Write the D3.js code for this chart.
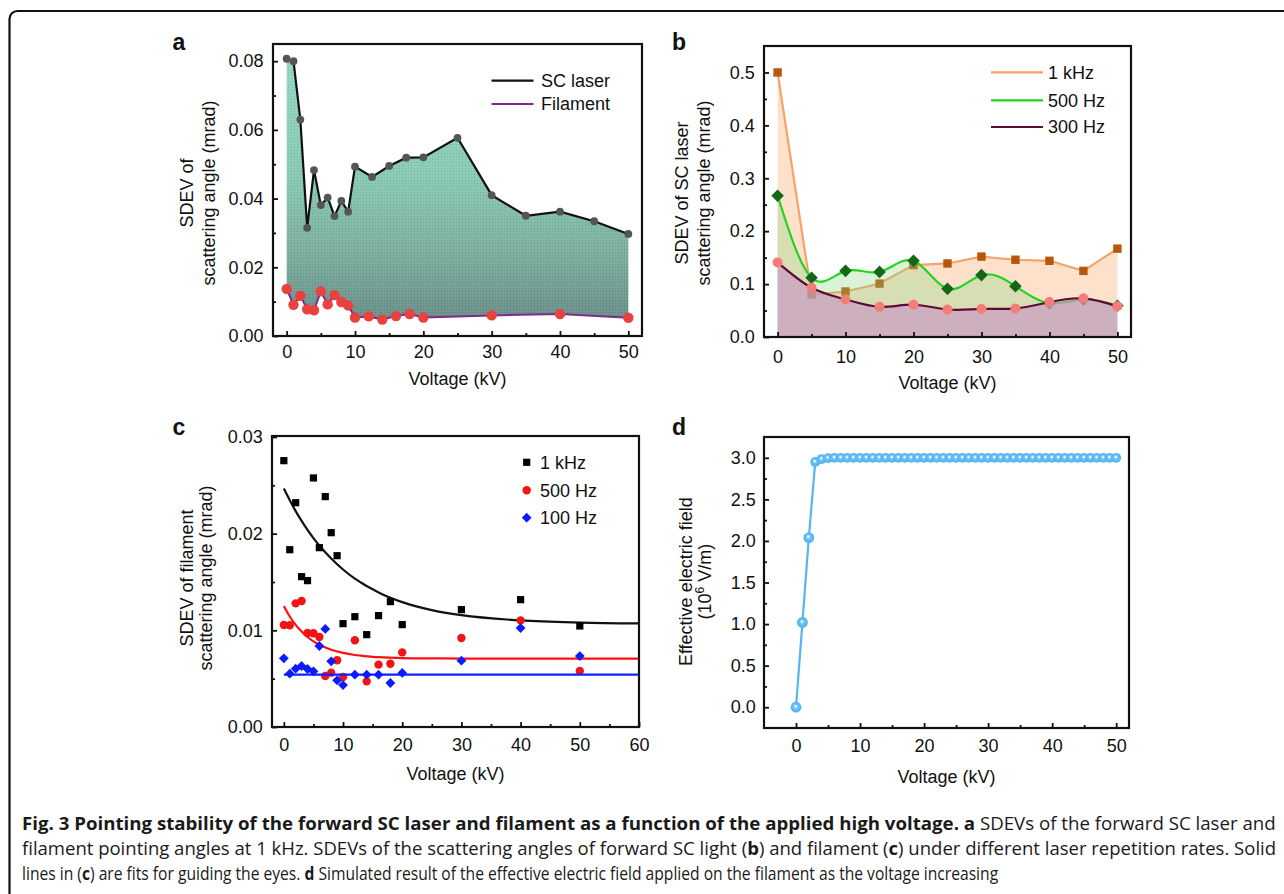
<!DOCTYPE html>
<html>
<head>
<meta charset="utf-8">
<script src="https://cdn.jsdelivr.net/npm/d3@7"></script>
<style>
html, body { margin: 0; padding: 0; background: #fff; }
svg { display: block; font-family: "Liberation Sans", Arimo, Arial, Helvetica, sans-serif; }
text { font-family: "Liberation Sans", Arimo, Arial, Helvetica, sans-serif; fill: #111; }
text.cap { font-family: "Open Sans", "Noto Sans", sans-serif; white-space: pre; fill: #1a1a1a; }
</style>
</head>
<body>
<svg id="fig" width="1284" height="894"></svg>
<script>
// ---------- Panel a: SDEV vs voltage at 1 kHz ----------
const voltA      = [0, 1, 2, 3, 4, 5, 6, 7, 8, 9, 10, 12.5, 15, 17.5, 20, 25, 30, 35, 40, 45, 50];
const scLaserA   = [0.0807, 0.0800, 0.0630, 0.0315, 0.0483, 0.0381, 0.0403, 0.0349, 0.0393, 0.0362, 0.0493,
                    0.0463, 0.0495, 0.0519, 0.0520, 0.0577, 0.0410, 0.0350, 0.0362, 0.0334, 0.0297];
const voltFilA   = [0, 1, 2, 3, 4, 5, 6, 7, 8, 9, 10, 12, 14, 16, 18, 20, 30, 40, 50];
const filamentA  = [0.0137, 0.0091, 0.0117, 0.0078, 0.0075, 0.0130, 0.0092, 0.0119, 0.0099, 0.0089, 0.0054,
                    0.0057, 0.0048, 0.0058, 0.0064, 0.0054, 0.0060, 0.0064, 0.0053];
const legendA    = ["SC laser", "Filament"];

// ---------- Panel b: SC laser SDEV at three repetition rates ----------
const voltB   = [0, 5, 10, 15, 20, 25, 30, 35, 40, 45, 50];
const kHz1B   = [0.500, 0.080, 0.086, 0.101, 0.136, 0.139, 0.152, 0.146, 0.144, 0.125, 0.167];
const hz500B  = [0.267, 0.112, 0.125, 0.123, 0.144, 0.091, 0.117, 0.096, 0.064, 0.071, 0.059];
const hz300B  = [0.141, 0.093, 0.071, 0.057, 0.061, 0.052, 0.053, 0.054, 0.066, 0.073, 0.058];
const legendB = ["1 kHz", "500 Hz", "300 Hz"];

// ---------- Panel c: filament SDEV at three repetition rates ----------
const voltC   = [0, 1, 2, 3, 4, 5, 6, 7, 8, 9, 10, 12, 14, 16, 18, 20, 30, 40, 50];
const kHz1C   = [0.02755, 0.01834, 0.0232, 0.01555, 0.01514, 0.02576, 0.01855, 0.02383, 0.0201, 0.01772,
                 0.01069, 0.01141, 0.00955, 0.01152, 0.01297, 0.01059, 0.01214, 0.01317, 0.01045];
const hz500C  = [0.01055, 0.01052, 0.01279, 0.01303, 0.00972, 0.00969, 0.00931, 0.00528, 0.00562, 0.0069,
                 0.00517, 0.00897, 0.00472, 0.00645, 0.00655, 0.00772, 0.00921, 0.01103, 0.00579];
const hz100C  = [0.0071, 0.00552, 0.00603, 0.00631, 0.006, 0.00576, 0.00838, 0.01014, 0.00679, 0.00483,
                 0.00434, 0.00541, 0.00541, 0.00541, 0.00455, 0.00559, 0.00686, 0.01024, 0.00734];
// guide-to-the-eye fit curves
const fitVoltC   = [0, 1, 2, 3, 4, 5, 6, 8, 10, 12, 13, 15, 16, 20, 25, 30, 40, 50, 60];
const fit1kHzC   = [0.02466, 0.02345, 0.02233, 0.02132, 0.02039, 0.01954, 0.01877, 0.01742, 0.01629, 0.01534,
                    0.01495, 0.01425, 0.01392, 0.01292, 0.01209, 0.01157, 0.01102, 0.0108, 0.01071];
const fit500C    = [0.01252, 0.01143, 0.01056, 0.00987, 0.00931, 0.00886, 0.00851, 0.00799, 0.00766, 0.00745,
                    0.00738, 0.00726, 0.00722, 0.00713, 0.0071, 0.00708, 0.00707, 0.00707, 0.00707];
const fit100C    = [0.00541, 0.00541];
const fit100VoltC = [0, 60];
const legendC = ["1 kHz", "500 Hz", "100 Hz"];

// ---------- Panel d: simulated effective electric field ----------
const voltD  = [0, 1, 2, 3, 4, 5, 6, 7, 8, 9, 10, 11, 12, 13, 14, 15, 16, 17, 18, 19, 20, 21, 22, 23, 24, 25,
                26, 27, 28, 29, 30, 31, 32, 33, 34, 35, 36, 37, 38, 39, 40, 41, 42, 43, 44, 45, 46, 47, 48, 49, 50];
const fieldD = [0, 1.02, 2.04, 2.95, 2.985, 2.996, 3.0, 3.0, 3.0, 3.0, 3.0, 3.0, 3.0, 3.0, 3.0, 3.0, 3.0, 3.0,
                3.0, 3.0, 3.0, 3.0, 3.0, 3.0, 3.0, 3.0, 3.0, 3.0, 3.0, 3.0, 3.0, 3.0, 3.0, 3.0, 3.0, 3.0, 3.0,
                3.0, 3.0, 3.0, 3.0, 3.0, 3.0, 3.0, 3.0, 3.0, 3.0, 3.0, 3.0, 3.0, 3.0];

const xTicks50 = [0, 10, 20, 30, 40, 50];
const xMinor50 = [5, 15, 25, 35, 45];

const svg = d3.select("#fig");
const defs = svg.append("defs");

// outer rounded frame of the figure
svg.append("rect")
  .attr("x", 9.5).attr("y", 11).attr("width", 1300).attr("height", 900).attr("rx", 8)
  .attr("fill", "none").attr("stroke", "#111").attr("stroke-width", 2.2);

function makePanel(box, xDom, yDom) {
  const x = d3.scaleLinear(xDom, [box.l, box.r]);
  const y = d3.scaleLinear(yDom, [box.b, box.t]);
  const g = svg.append("g");
  return { x, y, g, box };
}

function drawAxes(p, o) {
  const ax = p.g.append("g").attr("class", "axes");
  const bx = ax.append("g").attr("transform", `translate(0,${p.box.b})`)
    .call(d3.axisBottom(p.x).tickValues(o.xMajor).tickSize(-5).tickPadding(o.xPad).tickFormat(d3.format("d")));
  const bxm = ax.append("g").attr("transform", `translate(0,${p.box.b})`)
    .call(d3.axisBottom(p.x).tickValues(o.xMinor).tickSize(-3).tickFormat(""));
  const ly = ax.append("g").attr("transform", `translate(${p.box.l},0)`)
    .call(d3.axisLeft(p.y).tickValues(o.yMajor).tickSize(-5).tickPadding(o.yPad).tickFormat(d3.format(o.yFmt)));
  const lym = ax.append("g").attr("transform", `translate(${p.box.l},0)`)
    .call(d3.axisLeft(p.y).tickValues(o.yMinor).tickSize(-3).tickFormat(""));
  [bx, bxm, ly, lym].forEach(s => {
    s.select(".domain").remove();
    s.attr("font-size", 18).attr("font-family", null);
    s.selectAll("line").attr("stroke", "#111").attr("stroke-width", 1.8);
  });
  ax.append("rect")
    .attr("x", p.box.l).attr("y", p.box.t)
    .attr("width", p.box.r - p.box.l).attr("height", p.box.b - p.box.t)
    .attr("fill", "none").attr("stroke", "#111").attr("stroke-width", 2.2);
  ax.append("text").attr("x", (p.box.l + p.box.r) / 2).attr("y", o.xTitleY)
    .attr("text-anchor", "middle").attr("font-size", 18).text("Voltage (kV)");
}

function yTitle(lines, baseXs, cy) {
  lines.forEach((ln, i) => {
    const t = svg.append("text")
      .attr("transform", `translate(${baseXs[i]},${cy}) rotate(-90)`)
      .attr("text-anchor", "middle").attr("font-size", 18);
    if (typeof ln === "string") t.text(ln);
    else ln(t);
  });
}

function panelLabel(s, x, y) {
  svg.append("text").attr("x", x).attr("y", y).attr("font-size", 23)
    .attr("font-weight", "bold").text(s);
}

const diamond = h => `M0,${-h}L${h},0L0,${h}L${-h},0Z`;

// ================= Panel a =================
{
  const p = makePanel({ l: 273, r: 642, t: 44, b: 336 }, [-2, 52], [0, 0.085]);
  const grad = defs.append("linearGradient").attr("id", "gradA")
    .attr("gradientUnits", "userSpaceOnUse").attr("x1", 0).attr("x2", 0)
    .attr("y1", p.y(0.08)).attr("y2", p.y(0.005));
  grad.append("stop").attr("offset", "0%").attr("stop-color", "#93d6c1");
  grad.append("stop").attr("offset", "45%").attr("stop-color", "#89cab5");
  grad.append("stop").attr("offset", "75%").attr("stop-color", "#7cae9f");
  grad.append("stop").attr("offset", "100%").attr("stop-color", "#6a8f88");
  const pat = defs.append("pattern").attr("id", "dotsA").attr("patternUnits", "userSpaceOnUse")
    .attr("width", 3).attr("height", 3);
  pat.append("rect").attr("x", 0).attr("y", 0).attr("width", 1).attr("height", 1)
    .attr("fill", "rgba(30,60,55,0.14)");
  pat.append("rect").attr("x", 1.5).attr("y", 1.5).attr("width", 1).attr("height", 1)
    .attr("fill", "rgba(255,255,255,0.16)");

  const topPts = voltA.map((v, i) => [p.x(v), p.y(scLaserA[i])]);
  const botPts = voltFilA.map((v, i) => [p.x(v), p.y(filamentA[i])]).reverse();
  const areaPath = d3.line()([...topPts, ...botPts]) + "Z";
  p.g.append("path").attr("d", areaPath).attr("fill", "url(#gradA)");
  p.g.append("path").attr("d", areaPath).attr("fill", "url(#dotsA)");

  const line = d3.line().x(d => p.x(d[0])).y(d => p.y(d[1]));
  p.g.append("path").attr("d", line(voltA.map((v, i) => [v, scLaserA[i]])))
    .attr("fill", "none").attr("stroke", "#111").attr("stroke-width", 2.2);
  p.g.append("path").attr("d", line(voltFilA.map((v, i) => [v, filamentA[i]])))
    .attr("fill", "none").attr("stroke", "#7e2a8c").attr("stroke-width", 2);
  p.g.selectAll(".scDot").data(voltA).join("circle")
    .attr("cx", d => p.x(d)).attr("cy", (d, i) => p.y(scLaserA[i])).attr("r", 3.9).attr("fill", "#555");
  p.g.selectAll(".filDot").data(voltFilA).join("circle")
    .attr("cx", d => p.x(d)).attr("cy", (d, i) => p.y(filamentA[i])).attr("r", 5.2).attr("fill", "#e8413f");

  drawAxes(p, { xMajor: xTicks50, xMinor: xMinor50, yMajor: [0, 0.02, 0.04, 0.06, 0.08],
    yMinor: [0.01, 0.03, 0.05, 0.07], yFmt: ".2f", xPad: 9.5, yPad: 9.4, xTitleY: 385 });

  const lg = svg.append("g");
  [["#111", 80.7], ["#7e2a8c", 104]].forEach((d, i) => {
    lg.append("line").attr("x1", 491.5).attr("x2", 533.5).attr("y1", d[1]).attr("y2", d[1])
      .attr("stroke", d[0]).attr("stroke-width", 2.2);
    lg.append("text").attr("x", 541).attr("y", d[1]).attr("dy", "0.35em").attr("font-size", 18).text(legendA[i]);
  });
  yTitle(["SDEV of", "scattering angle (mrad)"], [193.3, 214.5], 193);
  panelLabel("a", 172.5, 50);
}

// ================= Panel b =================
{
  const p = makePanel({ l: 764, r: 1131, t: 46, b: 337 }, [-2, 52], [0, 0.55]);
  const lineLin = d3.line().x(d => p.x(d[0])).y(d => p.y(d[1]));
  const lineSm = d3.line().curve(d3.curveNatural).x(d => p.x(d[0])).y(d => p.y(d[1]));
  const areaLin = d3.area().x(d => p.x(d[0])).y0(p.y(0)).y1(d => p.y(d[1]));
  const areaSm = d3.area().curve(d3.curveNatural).x(d => p.x(d[0])).y0(p.y(0)).y1(d => p.y(d[1]));
  const s1 = voltB.map((v, i) => [v, kHz1B[i]]);
  const s5 = voltB.map((v, i) => [v, hz500B[i]]);
  const s3 = voltB.map((v, i) => [v, hz300B[i]]);

  // 1 kHz
  p.g.append("path").attr("d", areaLin(s1)).attr("fill", "#f9ab6c").attr("fill-opacity", 0.36);
  p.g.append("path").attr("d", lineLin(s1)).attr("fill", "none").attr("stroke", "#f3a46c").attr("stroke-width", 2.2);
  p.g.selectAll(".sq").data(s1).join("rect")
    .attr("x", d => p.x(d[0]) - 4.2).attr("y", d => p.y(d[1]) - 4.2).attr("width", 8.4).attr("height", 8.4)
    .attr("fill", "#b9560e");
  // 500 Hz
  p.g.append("path").attr("d", areaSm(s5)).attr("fill", "#86d87e").attr("fill-opacity", 0.3);
  p.g.append("path").attr("d", lineSm(s5)).attr("fill", "none").attr("stroke", "#22d31f").attr("stroke-width", 2.2);
  p.g.selectAll(".dm").data(s5).join("path")
    .attr("d", diamond(6.3)).attr("transform", d => `translate(${p.x(d[0])},${p.y(d[1])})`).attr("fill", "#16661a");
  // 300 Hz
  p.g.append("path").attr("d", areaSm(s3)).attr("fill", "#c99ac2").attr("fill-opacity", 0.68);
  p.g.append("path").attr("d", lineSm(s3)).attr("fill", "none").attr("stroke", "#5c0a36").attr("stroke-width", 2.2);
  p.g.selectAll(".ci").data(s3).join("circle")
    .attr("cx", d => p.x(d[0])).attr("cy", d => p.y(d[1])).attr("r", 5).attr("fill", "#f47d7a");

  drawAxes(p, { xMajor: xTicks50, xMinor: xMinor50, yMajor: [0, 0.1, 0.2, 0.3, 0.4, 0.5],
    yMinor: [0.05, 0.15, 0.25, 0.35, 0.45], yFmt: ".1f", xPad: 13.5, yPad: 9.3, xTitleY: 389 });

  const lg = svg.append("g");
  [["#f3a46c", 72.3], ["#22d31f", 100.3], ["#5c0a36", 127]].forEach((d, i) => {
    lg.append("line").attr("x1", 991).attr("x2", 1043).attr("y1", d[1]).attr("y2", d[1])
      .attr("stroke", d[0]).attr("stroke-width", 2.2);
    lg.append("text").attr("x", 1048).attr("y", d[1]).attr("dy", "0.35em").attr("font-size", 18).text(legendB[i]);
  });
  yTitle(["SDEV of SC laser", "scattering angle (mrad)"], [688, 709.5], 193);
  panelLabel("b", 672, 50);
}

// ================= Panel c =================
{
  const p = makePanel({ l: 272, r: 639, t: 436, b: 727 }, [-2, 60], [0, 0.0301]);
  const line = d3.line().curve(d3.curveMonotoneX).x(d => p.x(d[0])).y(d => p.y(d[1]));
  p.g.append("path").attr("d", line(fitVoltC.map((v, i) => [v, fit1kHzC[i]])))
    .attr("fill", "none").attr("stroke", "#111").attr("stroke-width", 2.2);
  p.g.append("path").attr("d", line(fitVoltC.map((v, i) => [v, fit500C[i]])))
    .attr("fill", "none").attr("stroke", "#ff1010").attr("stroke-width", 2.2);

  p.g.selectAll(".sq").data(voltC).join("rect")
    .attr("x", d => p.x(d) - 3.6).attr("y", (d, i) => p.y(kHz1C[i]) - 3.6).attr("width", 7.2).attr("height", 7.2)
    .attr("fill", "#000");
  p.g.selectAll(".ci").data(voltC).join("circle")
    .attr("cx", d => p.x(d)).attr("cy", (d, i) => p.y(hz500C[i])).attr("r", 4.2).attr("fill", "#f21414");
  p.g.append("path").attr("d", line(fit100VoltC.map((v, i) => [v, fit100C[i]])))
    .attr("fill", "none").attr("stroke", "#1020ff").attr("stroke-width", 2.2);
  p.g.selectAll(".dm").data(voltC).join("path")
    .attr("d", diamond(4.9)).attr("transform", (d, i) => `translate(${p.x(d)},${p.y(hz100C[i])})`)
    .attr("fill", "#0a1cff");

  drawAxes(p, { xMajor: [0, 10, 20, 30, 40, 50, 60], xMinor: [5, 15, 25, 35, 45, 55],
    yMajor: [0, 0.01, 0.02, 0.03], yMinor: [0.005, 0.015, 0.025], yFmt: ".2f",
    xPad: 10.8, yPad: 9.3, xTitleY: 780 });

  const lg = svg.append("g");
  const ys = [462.3, 490.3, 517.7], cx = 526.7;
  lg.append("rect").attr("x", cx - 3.6).attr("y", ys[0] - 3.6).attr("width", 7.2).attr("height", 7.2).attr("fill", "#000");
  lg.append("circle").attr("cx", cx).attr("cy", ys[1]).attr("r", 4.2).attr("fill", "#f21414");
  lg.append("path").attr("d", diamond(4.9)).attr("transform", `translate(${cx},${ys[2]})`).attr("fill", "#0a1cff");
  ys.forEach((y, i) => lg.append("text").attr("x", 540).attr("y", y).attr("dy", "0.35em")
    .attr("font-size", 18).text(legendC[i]));
  yTitle(["SDEV of filament", "scattering angle (mrad)"], [193.3, 211.5], 578);
  panelLabel("c", 172.5, 435);
}

// ================= Panel d =================
{
  const p = makePanel({ l: 764, r: 1129, t: 437, b: 728 }, [-5, 52], [-0.25, 3.25]);
  const rg = defs.append("radialGradient").attr("id", "ballD")
    .attr("cx", "50%").attr("cy", "50%").attr("r", "50%").attr("fx", "45%").attr("fy", "40%");
  rg.append("stop").attr("offset", "0%").attr("stop-color", "#ffffff");
  rg.append("stop").attr("offset", "14%").attr("stop-color", "#e2f4fe");
  rg.append("stop").attr("offset", "38%").attr("stop-color", "#70c5f5");
  rg.append("stop").attr("offset", "100%").attr("stop-color", "#4caff0");
  const line = d3.line().x(d => p.x(d[0])).y(d => p.y(d[1]));
  const sD = voltD.map((v, i) => [v, fieldD[i]]);
  p.g.append("path").attr("d", line(sD)).attr("fill", "none").attr("stroke", "#56b6f1").attr("stroke-width", 2.2);
  p.g.selectAll(".ball").data(sD).join("circle")
    .attr("cx", d => p.x(d[0])).attr("cy", d => p.y(d[1])).attr("r", (d, i) => i < 3 ? 5.4 : 4.9)
    .attr("fill", "url(#ballD)");

  drawAxes(p, { xMajor: xTicks50, xMinor: xMinor50, yMajor: [0, 0.5, 1, 1.5, 2, 2.5, 3],
    yMinor: [0.25, 0.75, 1.25, 1.75, 2.25, 2.75], yFmt: ".1f", xPad: 11.2, yPad: 8.2, xTitleY: 783 });

  yTitle(["Effective electric field", t => {
    t.append("tspan").text("(10");
    t.append("tspan").attr("font-size", 12).attr("dy", -7).text("6");
    t.append("tspan").attr("dy", 7).text(" V/m)");
  }], [691.5, 711], 581.7);
  panelLabel("d", 672, 435);
}

// ================= Caption =================
{
  const cap = svg.append("g");
  const lines = [
    { y: 830, len: 1255, parts: [
      ["Fig. 3 Pointing stability of the forward SC laser and filament as a function of the applied high voltage. ", true],
      ["a", true], [" SDEVs of the forward SC laser and", false]] },
    { y: 855, len: 1255, parts: [
      ["filament pointing angles at 1 kHz. SDEVs of the scattering angles of forward SC light (", false],
      ["b", true], [") and filament (", false], ["c", true],
      [") under different laser repetition rates. Solid", false]] },
    { y: 880, len: 977, parts: [
      ["lines in (", false], ["c", true], [") are fits for guiding the eyes. ", false], ["d", true],
      [" Simulated result of the effective electric field applied on the filament as the voltage increasing", false]] }
  ];
  lines.forEach(l => {
    // one text per line, runs flow naturally; the line is then squeezed horizontally to its width
    const t = cap.append("text").attr("class", "cap").attr("x", 0).attr("y", 0).attr("font-size", 18);
    l.parts.forEach(pt => t.append("tspan").attr("font-weight", pt[1] ? "bold" : "normal").text(pt[0]));
    const k = l.len / t.node().getComputedTextLength();
    t.attr("transform", `translate(22,${l.y}) scale(${k},1)`);
  });
}
</script>
</body>
</html>
